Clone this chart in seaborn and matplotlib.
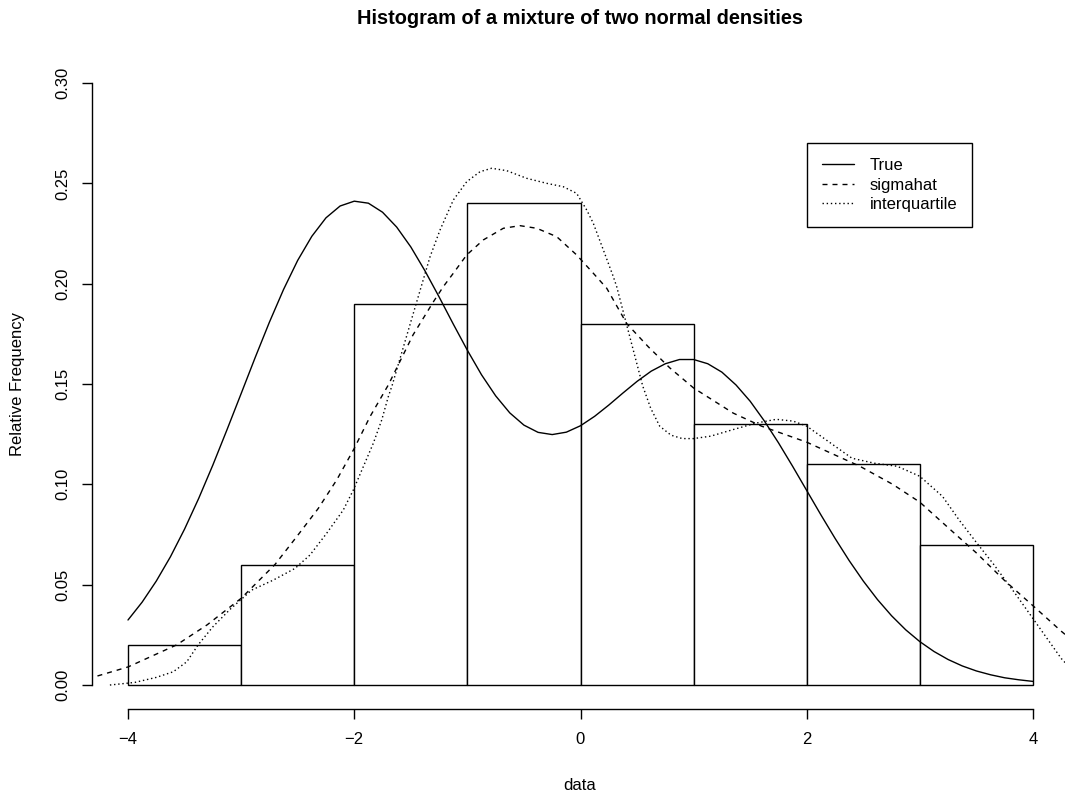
import matplotlib
matplotlib.use("Agg")
import matplotlib.pyplot as plt
from matplotlib.lines import Line2D
import seaborn as sns

# ---------------- data ----------------
bin_edges = [-4, -3, -2, -1, 0, 1, 2, 3, 4]
bin_mids = [-3.5, -2.5, -1.5, -0.5, 0.5, 1.5, 2.5, 3.5]
rel_freq = [0.02, 0.06, 0.19, 0.24, 0.18, 0.13, 0.11, 0.07]

true_x = [-4.0, -3.875, -3.75, -3.625, -3.5, -3.375, -3.25, -3.125, -3.0, -2.875,
          -2.75, -2.625, -2.5, -2.375, -2.25, -2.125, -2.0, -1.875, -1.75, -1.625,
          -1.5, -1.375, -1.25, -1.125, -1.0, -0.875, -0.75, -0.625, -0.5, -0.375,
          -0.25, -0.125, 0.0, 0.125, 0.25, 0.375, 0.5, 0.625, 0.75, 0.875, 1.0,
          1.125, 1.25, 1.375, 1.5, 1.625, 1.75, 1.875, 2.0, 2.125, 2.25, 2.375,
          2.5, 2.625, 2.75, 2.875, 3.0, 3.125, 3.25, 3.375, 3.5, 3.625, 3.75,
          3.875, 4.0]
true_y = [0.0324, 0.0413, 0.0518, 0.0639, 0.0777, 0.0930, 0.1096, 0.1272, 0.1452,
          0.1633, 0.1808, 0.1971, 0.2116, 0.2236, 0.2328, 0.2387, 0.2411, 0.2401,
          0.2356, 0.2282, 0.2183, 0.2064, 0.1934, 0.1799, 0.1668, 0.1546, 0.1441,
          0.1356, 0.1295, 0.1259, 0.1248, 0.1260, 0.1292, 0.1339, 0.1395, 0.1455,
          0.1513, 0.1564, 0.1601, 0.1622, 0.1622, 0.1601, 0.1559, 0.1495, 0.1414,
          0.1316, 0.1207, 0.1090, 0.0969, 0.0848, 0.0731, 0.0620, 0.0518, 0.0426,
          0.0345, 0.0275, 0.0216, 0.0167, 0.0127, 0.0095, 0.0070, 0.0051, 0.0036,
          0.0026, 0.0018]

sig_x = [-4.27, -4.0, -3.57, -3.3, -3.0, -2.70, -2.509, -2.318, -2.155, -2.0,
         -1.861, -1.699, -1.48, -1.30, -1.213, -1.124, -1.006, -0.859, -0.682,
         -0.535, -0.387, -0.210, -0.034, 0.113, 0.232, 0.41, 0.6, 0.79, 1.0, 1.35,
         1.6, 2.0, 2.47, 2.76, 3.0, 3.25, 3.5, 3.75, 4.0, 4.25, 4.32]
sig_y = [0.0045, 0.009, 0.020, 0.030, 0.0432, 0.0601, 0.0739, 0.0880, 0.1022,
         0.1179, 0.1337, 0.1495, 0.1745, 0.191, 0.1985, 0.2052, 0.2143, 0.2218,
         0.2276, 0.2289, 0.2276, 0.2234, 0.2143, 0.2052, 0.1977, 0.180, 0.1685,
         0.158, 0.148, 0.1355, 0.129, 0.121, 0.109, 0.100, 0.0911, 0.0784, 0.0658,
         0.052, 0.0395, 0.0268, 0.0235]

iqr_x = [-4.16, -3.94, -3.75, -3.60, -3.48, -3.38, -3.25, -3.098, -2.907, -2.715,
         -2.524, -2.391, -2.244, -2.097, -2.008, -1.92, -1.832, -1.757, -1.699,
         -1.664, -1.5, -1.330, -1.242, -1.124, -1.006, -0.888, -0.785, -0.652,
         -0.476, -0.299, -0.152, -0.034, 0.055, 0.113, 0.202, 0.290, 0.320, 0.44,
         0.55, 0.62, 0.70, 0.80, 0.90, 1.0, 1.15, 1.35, 1.55, 1.73, 1.88, 2.0, 2.2,
         2.4, 2.6, 2.8, 3.0, 3.2, 3.35, 3.5, 3.65, 3.85, 4.0, 4.25, 4.32]
iqr_y = [0.0, 0.0013, 0.0038, 0.0066, 0.0116, 0.020, 0.029, 0.0377, 0.0473, 0.0523,
         0.0581, 0.0648, 0.0756, 0.0872, 0.0972, 0.1088, 0.1204, 0.1321, 0.1437,
         0.1495, 0.181, 0.2134, 0.2267, 0.2417, 0.2508, 0.2558, 0.2575, 0.2563,
         0.2525, 0.2500, 0.2483, 0.2450, 0.2367, 0.2301, 0.2168, 0.2035, 0.1985,
         0.1726, 0.149, 0.138, 0.129, 0.1245, 0.1228, 0.1228, 0.124, 0.1273, 0.1305,
         0.1324, 0.1315, 0.129, 0.121, 0.113, 0.1105, 0.109, 0.104, 0.094, 0.082,
         0.071, 0.0603, 0.045, 0.0331, 0.0132, 0.009]

series_labels = ["True", "sigmahat", "interquartile"]
x_ticks = [-4, -2, 0, 2, 4]
y_ticks = [0.0, 0.05, 0.10, 0.15, 0.20, 0.25, 0.30]
y_tick_labels = ["0.00", "0.05", "0.10", "0.15", "0.20", "0.25", "0.30"]

# ---------------- style ----------------
sns.set_style("white")
plt.rcParams["font.family"] = ["Liberation Sans", "DejaVu Sans"]
plt.rcParams["axes.unicode_minus"] = True
plt.rcParams["text.color"] = "black"
plt.rcParams["axes.labelcolor"] = "black"
plt.rcParams["xtick.color"] = "black"
plt.rcParams["ytick.color"] = "black"

W, H = 1065, 795
fig = plt.figure(figsize=(W / 100, H / 100), dpi=100)
fig.patch.set_facecolor("white")
ax = fig.add_axes([91.8 / W, (H - 709.1) / H, 977.4 / W, 650.2 / H])
ax.set_facecolor("white")

sns.histplot(x=bin_mids, weights=rel_freq, bins=bin_edges, stat="count",
             color="white", edgecolor="black", linewidth=1.0, alpha=1.0, ax=ax)

dash_style = (0, (3.6, 3.6))
dot_style = (0, (1, 2))
sns.lineplot(x=true_x, y=true_y, color="black", linewidth=1.0, ax=ax)
sns.lineplot(x=sig_x, y=sig_y, color="black", linewidth=1.0, linestyle=dash_style, ax=ax)
sns.lineplot(x=iqr_x, y=iqr_y, color="black", linewidth=1.0, linestyle=dot_style, ax=ax)

ax.set_xlim(-4.32, 4.32)
ax.set_ylim(-0.012, 0.312)

for s in ["top", "right"]:
    ax.spines[s].set_visible(False)
for s in ["left", "bottom"]:
    ax.spines[s].set_visible(True)
    ax.spines[s].set_color("black")
    ax.spines[s].set_linewidth(1.0)
ax.spines["bottom"].set_bounds(-4, 4)
ax.spines["left"].set_bounds(0, 0.3)

ax.set_xticks(x_ticks)
ax.set_yticks(y_ticks)
ax.set_yticklabels(y_tick_labels, rotation=90, va="center")
ax.tick_params(axis="both", which="major", direction="out", length=7.2, width=1.0,
               color="black", labelsize=12, labelcolor="black",
               bottom=True, left=True, top=False, right=False)
ax.tick_params(axis="x", pad=9)
ax.tick_params(axis="y", pad=8.3)
ax.set_xlabel("")
ax.set_ylabel("")

fig.text(580 / W, 1 - 785 / H, "data", ha="center", va="center", fontsize=12,
         color="black")
fig.text(18 / W, 1 - 384 / H, "Relative Frequency", ha="center", va="center",
         rotation=90, fontsize=12, color="black")
fig.text(580 / W, 1 - 23.5 / H, "Histogram of a mixture of two normal densities",
         ha="center", va="baseline", fontsize=14.4, fontweight="bold", color="black")

handles = [Line2D([], [], color="black", linewidth=1.0),
           Line2D([], [], color="black", linewidth=1.0, linestyle=dash_style),
           Line2D([], [], color="black", linewidth=1.0, linestyle=dot_style)]
leg = ax.legend(handles, series_labels, loc="upper left",
                bbox_to_anchor=(2.0, 0.27), bbox_transform=ax.transData,
                borderaxespad=0, fontsize=12, handlelength=1.92,
                handletextpad=0.96, borderpad=0.9, labelspacing=0.26,
                fancybox=False, framealpha=1, edgecolor="black")
leg.get_frame().set_linewidth(1.0)
for t in leg.get_texts():
    t.set_color("black")

fig.savefig("out.png", dpi=100, facecolor="white")
